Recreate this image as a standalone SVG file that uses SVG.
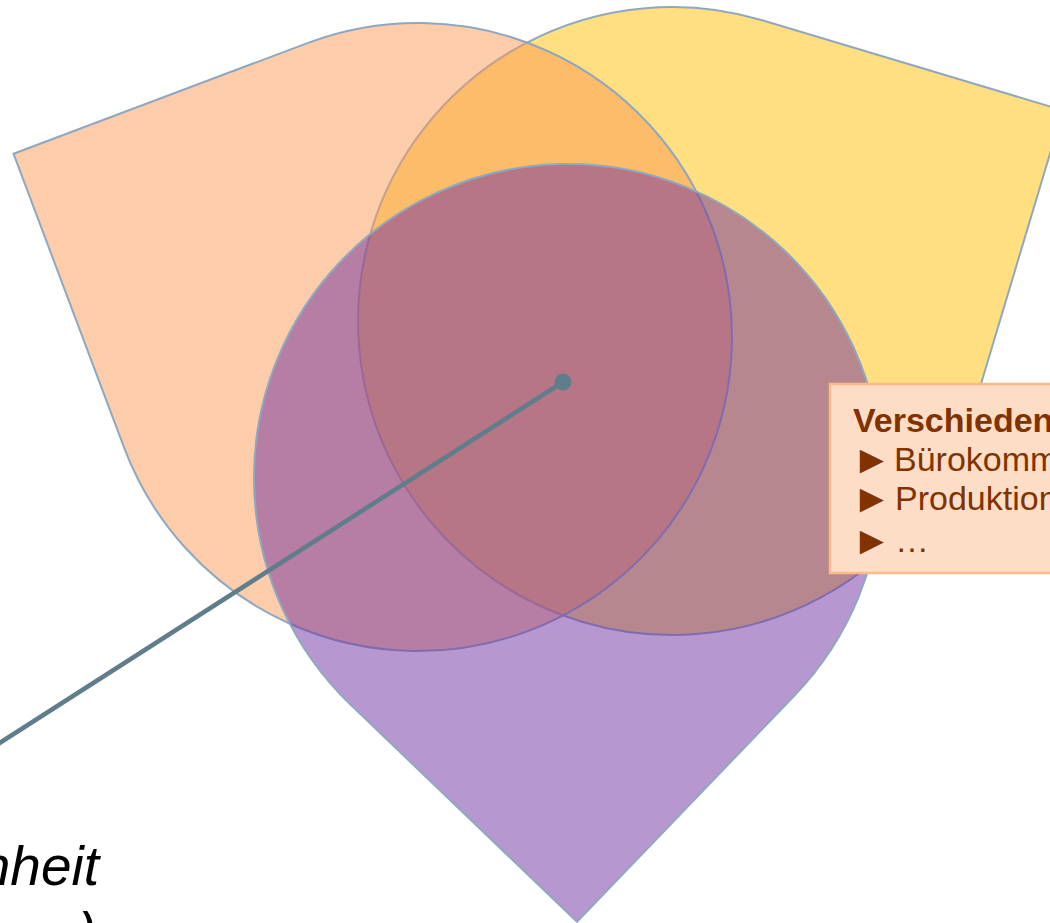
<svg xmlns="http://www.w3.org/2000/svg" width="1050" height="923" viewBox="0 0 1050 923">
  <style>
    .shape { stroke: #8FA8BF; stroke-width: 2; stroke-linejoin: round; }
    .yellow { fill: #FFC000; fill-opacity: 0.5; }
    .peach { fill: #FB9955; fill-opacity: 0.5; }
    .purple { fill: #7030A0; fill-opacity: 0.5; }
    .box { fill: #FEDDC7; stroke: #FBB98C; stroke-width: 2.5; }
    .boxtext { font-family: "Liberation Sans", Arial, sans-serif; font-size: 34px; fill: #803300; }
    .bold { font-weight: bold; }
    .arrow { font-family: "Liberation Sans", Arial, sans-serif; font-size: 40px; fill: #803300; }
    .label { font-family: "Liberation Sans", Arial, sans-serif; font-size: 55px; font-style: italic; fill: #000000; }
    .conn { stroke: #607D8B; stroke-width: 4.5; fill: none; stroke-linecap: round; }
  </style>
  <rect width="1050" height="923" fill="#FFFFFF"/>
  <g id="node-yellow">
    <path class="shape yellow" d="M1063.0,110.4 L762.2,20.2 A314,314 0 1 0 972.8,411.2 Z"/>
  </g>
  <g id="node-peach">
    <path class="shape peach" d="M13.5,153.7 L124.1,447.6 A314,314 0 1 0 307.4,43.1 Z"/>
  </g>
  <g id="node-purple">
    <path class="shape purple" d="M577.0,921.9 L794.5,695.5 A314,314 0 1 0 350.5,704.5 Z"/>
  </g>
  <g id="node-box">
    <rect class="box" x="830" y="384" width="250" height="189"/>
    <text class="boxtext bold" x="853" y="432">Verschieden</text>
    <text class="arrow" x="852" y="473">►</text>
    <text class="boxtext" x="894" y="471">Bürokomm</text>
    <text class="arrow" x="852" y="512">►</text>
    <text class="boxtext" x="895" y="510">Produktion</text>
    <text class="arrow" x="852" y="554">►</text>
    <text class="boxtext" x="895" y="552">…</text>
  </g>
  <g id="connectors">
    <line class="conn" x1="563" y1="382" x2="-5" y2="746"/>
    <circle cx="563" cy="382" r="8.5" fill="#607D8B"/>
  </g>
  <g id="node-label">
    <text class="label" x="99" y="885" text-anchor="end">nheit</text>
    <text class="label" x="78" y="951">)</text>
  </g>
</svg>
